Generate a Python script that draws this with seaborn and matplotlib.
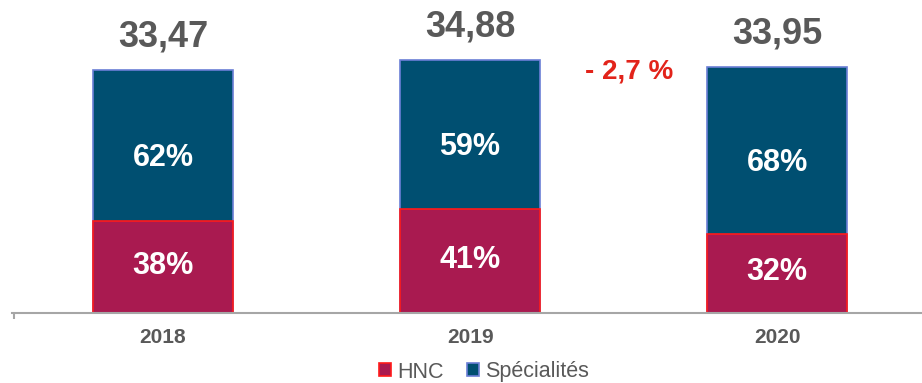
import matplotlib
matplotlib.use("Agg")
import matplotlib.pyplot as plt
from matplotlib.patches import Patch
import seaborn as sns
import pandas as pd

# Data
years = ["2018", "2019", "2020"]
totals = [33.47, 34.88, 33.95]
total_labels = ["33,47", "34,88", "33,95"]
hnc_pct = [38, 41, 32]
spec_pct = [62, 59, 68]
change_label = "- 2,7 %"

hnc_vals = [t * p / 100 for t, p in zip(totals, hnc_pct)]

df = pd.DataFrame({"year": years, "total": totals, "hnc": hnc_vals})

sns.set_theme(style="white")
plt.rcParams["font.family"] = ["Liberation Sans", "DejaVu Sans"]

SPEC_COLOR = "#004F71"
SPEC_EDGE = "#6B7FD6"
HNC_COLOR = "#A91A50"
HNC_EDGE = "#FF1A1A"
GRAY = "#595959"
AXIS_GRAY = "#A6A6A6"

fig = plt.figure(figsize=(9.22, 3.83), dpi=100)
ax = fig.add_axes([12 / 922, 70 / 383, 1 - 12 / 922, 1 - 70 / 383])

# Full bar = Spécialités on top, HNC drawn over its lower part
sns.barplot(data=df, x="year", y="total", color=SPEC_COLOR, width=0.456,
            edgecolor=SPEC_EDGE, linewidth=1.2, saturation=1, ax=ax)
sns.barplot(data=df, x="year", y="hnc", color=HNC_COLOR, width=0.456,
            edgecolor=HNC_EDGE, linewidth=1.2, saturation=1, ax=ax)

ax.set_xlim(-0.492, 2.472)
ax.set_ylim(0, 43.17)

for i, (t, h, lab, hp, sp) in enumerate(zip(totals, hnc_vals, total_labels, hnc_pct, spec_pct)):
    # total above bar
    ax.annotate(lab, (i, t), xytext=(0, 24), textcoords="offset points",
                ha="center", va="center", fontsize=26, fontweight="bold", color=GRAY)
    # Spécialités share
    ax.annotate(f"{sp}%", (i, h + (t - h) / 2), xytext=(0, -9), textcoords="offset points",
                ha="center", va="center", fontsize=22, fontweight="bold", color="white")
    # HNC share
    ax.annotate(f"{hp}%", (i, h / 2), xytext=(0, 1), textcoords="offset points",
                ha="center", va="center", fontsize=22, fontweight="bold", color="white")

ax.text(1.518, 33.37, change_label, ha="center", va="center", fontsize=20,
        fontweight="bold", color="#E2231A")

# Axes styling
for s in ["top", "right", "left"]:
    ax.spines[s].set_visible(False)
ax.spines["bottom"].set_color(AXIS_GRAY)
ax.spines["bottom"].set_linewidth(1.5)
ax.set_yticks([])
ax.set_xlabel("")
ax.set_ylabel("")
ax.set_xticks(range(len(years)))
ax.set_xticklabels(years, fontsize=15, fontweight="bold", color=GRAY)
ax.tick_params(axis="x", which="major", length=0, pad=11)

# small end tick at the left of the category axis
ax.plot([0.002, 0.002], [0, -0.018], transform=ax.transAxes, color=AXIS_GRAY,
        linewidth=1.5, clip_on=False, solid_capstyle="butt")

handles = [
    Patch(facecolor=HNC_COLOR, edgecolor=HNC_EDGE, linewidth=1.2, label="HNC"),
    Patch(facecolor=SPEC_COLOR, edgecolor=SPEC_EDGE, linewidth=1.2, label="Spécialités"),
]
leg = fig.legend(handles=handles, loc="center", bbox_to_anchor=(484 / 922, 1 - 372 / 383),
                 ncol=2, frameon=False, fontsize=15.5, handlelength=0.55, handleheight=0.55,
                 handletextpad=0.3, columnspacing=1.1, borderaxespad=0)
for t in leg.get_texts():
    t.set_color(GRAY)

fig.savefig("out.png", dpi=100)
